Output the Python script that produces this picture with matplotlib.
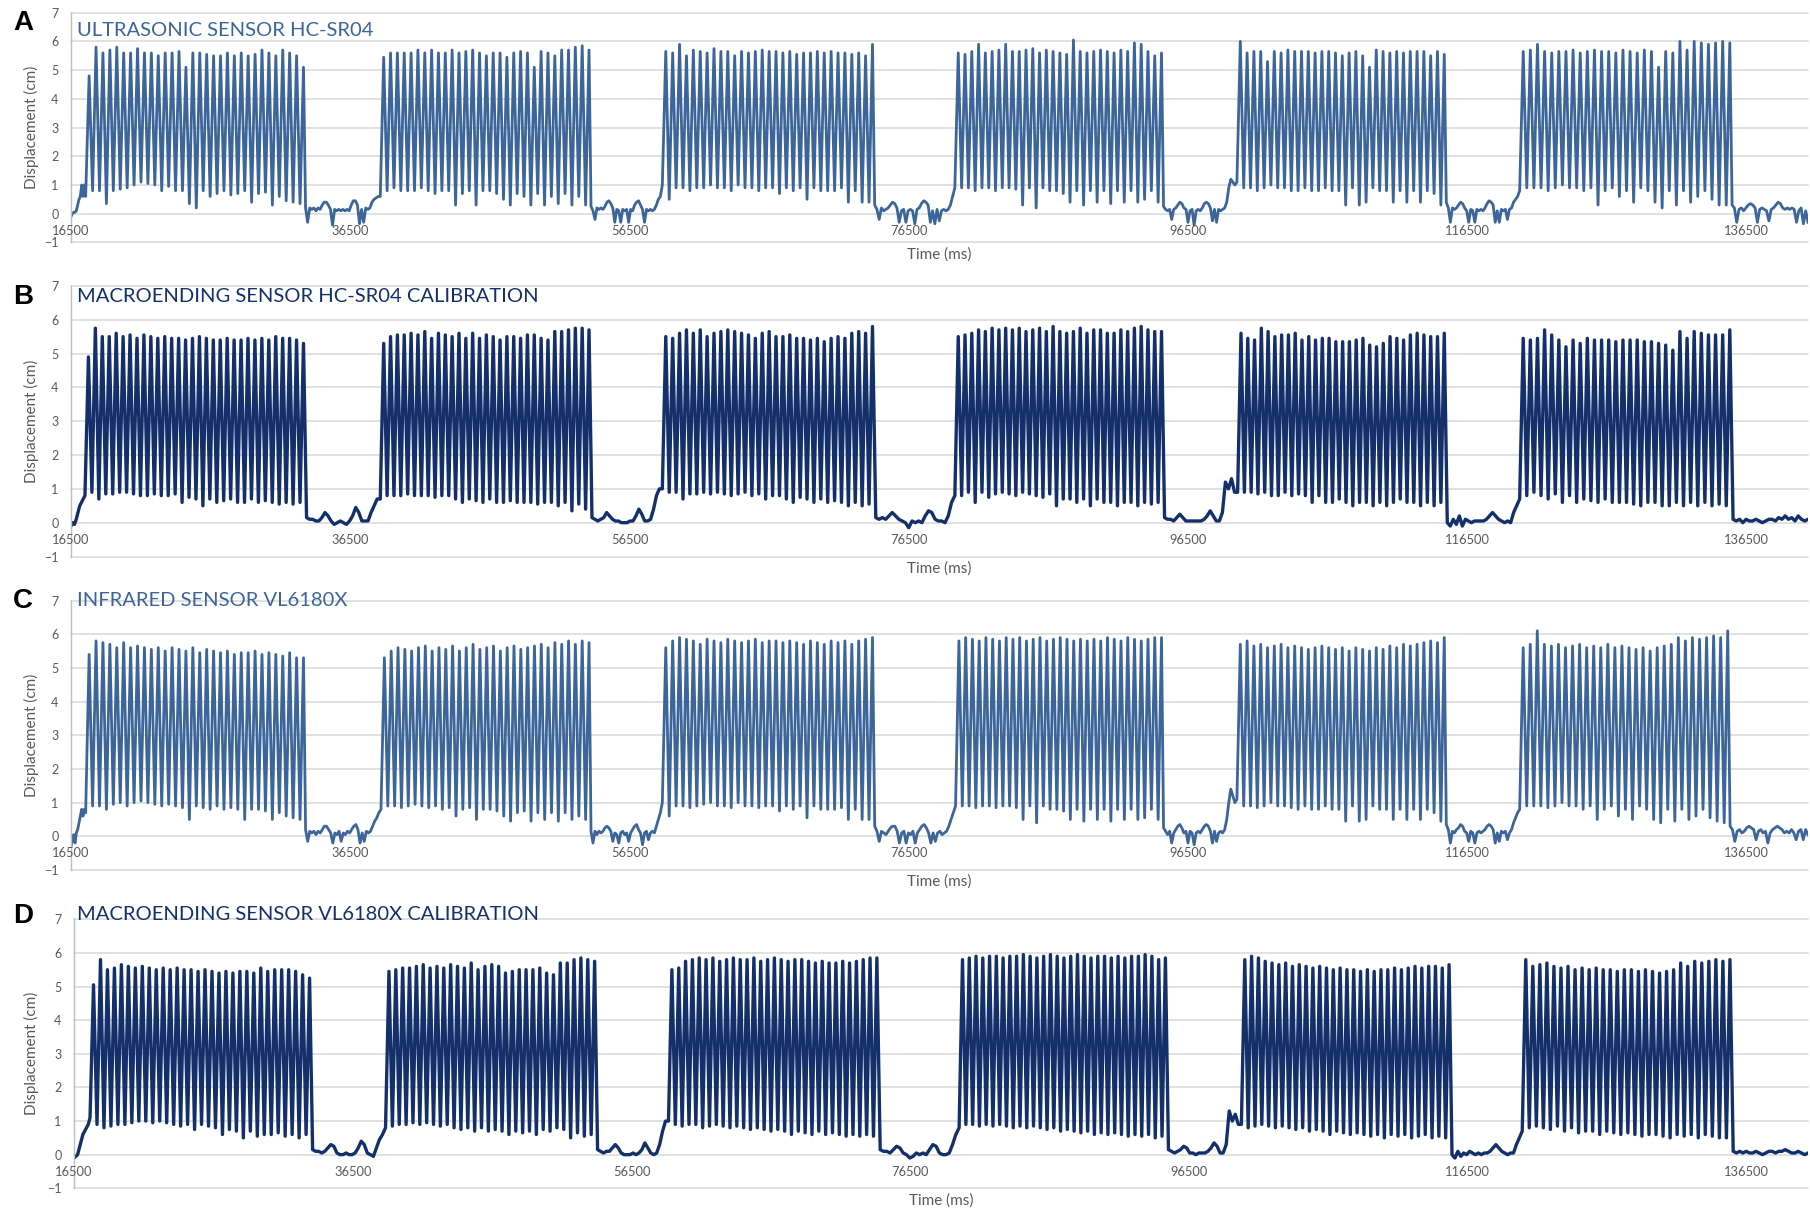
import numpy as np
import matplotlib.pyplot as plt

W, H = 1810, 1211
t_start, t_end = 16500, 140900
time_ticks = [16500, 36500, 56500, 76500, 96500, 116500, 136500]
disp_ticks = [-1, 0, 1, 2, 3, 4, 5, 6, 7]

# ---------------- A: ultrasonic sensor HC-SR04 ----------------
on_A = [17550, 38650, 58850, 79800, 100000, 120250]
off_A = [33150, 53600, 73900, 94600, 114850, 135300]
peaks_A = [
    [4.8, 5.8, 5.6, 5.7, 5.8, 5.6, 5.6, 5.75, 5.6, 5.6, 5.5, 5.6, 5.6, 5.65, 5.1, 5.6,
     5.6, 5.55, 5.5, 5.5, 5.6, 5.5, 5.6, 5.5, 5.55, 5.7, 5.6, 5.5, 5.7, 5.6, 5.5, 5.1],
    [5.45, 5.6, 5.6, 5.6, 5.6, 5.7, 5.6, 5.7, 5.6, 5.6, 5.7, 5.6, 5.65, 5.7, 5.6, 5.5,
     5.6, 5.6, 5.45, 5.6, 5.65, 5.6, 5.1, 5.65, 5.6, 5.5, 5.7, 5.7, 5.8, 5.85, 5.7],
    [5.65, 5.6, 5.9, 5.5, 5.7, 5.65, 5.6, 5.75, 5.65, 5.65, 5.5, 5.65, 5.6, 5.65, 5.7, 5.65,
     5.65, 5.6, 5.65, 5.55, 5.6, 5.6, 5.65, 5.6, 5.65, 5.6, 5.6, 5.55, 5.6, 5.5, 5.9],
    [5.6, 5.55, 5.65, 5.9, 5.6, 5.65, 5.7, 5.9, 5.65, 5.65, 5.7, 5.75, 5.6, 5.7, 5.65, 5.6,
     5.55, 6.05, 5.65, 5.6, 5.65, 5.7, 5.65, 5.6, 5.7, 5.65, 5.95, 5.9, 5.65, 5.5, 5.6],
    [6.0, 5.6, 5.65, 5.65, 5.3, 5.65, 5.6, 5.7, 5.65, 5.65, 5.65, 5.6, 5.65, 5.65, 5.6, 5.5,
     5.6, 5.65, 5.5, 5.1, 5.7, 5.65, 5.6, 5.65, 5.6, 5.65, 5.65, 5.65, 5.5, 5.65, 5.55],
    [5.65, 5.7, 5.9, 5.65, 5.6, 5.65, 5.65, 5.7, 5.6, 5.65, 5.7, 5.65, 5.65, 5.6, 5.7,
     5.65, 5.6, 5.7, 5.65, 5.1, 5.65, 5.6, 6.0, 5.7, 6.0, 5.95, 5.9, 5.95, 6.0, 5.95],
]
troughs_A = [
    [0.6, 0.8, 0.8, 0.35, 0.8, 0.85, 0.9, 1.0, 1.1, 1.05, 1.0, 0.8, 0.95, 0.8, 0.8, 0.35,
     0.2, 0.8, 0.6, 0.7, 0.8, 0.65, 0.7, 0.8, 0.4, 0.7, 0.75, 0.3, 0.6, 0.45, 0.4, 0.35],
    [0.6, 0.8, 0.9, 0.8, 0.8, 0.8, 0.9, 0.8, 0.7, 0.8, 0.8, 0.3, 0.7, 0.8, 0.3, 0.8,
     0.8, 0.7, 0.5, 0.3, 0.7, 0.6, 0.3, 0.7, 0.3, 0.6, 0.35, 0.7, 0.3, 0.6, 0.3],
    [1.0, 0.5, 0.9, 0.9, 0.8, 0.9, 0.9, 1.0, 0.9, 0.9, 0.8, 1.0, 0.9, 0.9, 0.8, 0.9,
     0.9, 0.7, 0.9, 0.8, 0.9, 0.5, 0.9, 0.8, 0.8, 0.8, 0.9, 0.4, 0.8, 0.4, 0.4],
    [0.9, 0.9, 0.9, 0.8, 0.9, 0.9, 0.8, 0.9, 0.9, 0.85, 0.3, 0.9, 0.2, 0.9, 0.8, 0.8,
     0.7, 0.4, 0.8, 0.3, 0.8, 0.4, 0.8, 0.35, 0.8, 0.4, 0.8, 0.4, 0.5, 0.8, 0.4],
    [1.1, 0.9, 0.9, 0.8, 0.9, 1.0, 0.9, 0.9, 0.8, 0.8, 0.9, 0.8, 0.8, 0.9, 0.8, 0.8,
     0.3, 0.9, 0.3, 0.4, 0.9, 0.8, 0.8, 0.4, 0.8, 0.4, 0.8, 0.4, 0.8, 0.7, 0.3],
    [0.8, 0.9, 0.9, 0.9, 0.8, 0.9, 1.0, 0.9, 0.9, 0.8, 0.9, 0.3, 0.8, 0.9, 0.6,
     0.8, 0.4, 0.9, 0.8, 0.4, 0.2, 0.8, 0.3, 0.8, 0.4, 0.6, 0.8, 0.5, 0.3, 0.3],
]
rest_A = [
    [-0.1, 0.0, 0.05, 0.05, 0.1, 0.3, 0.5, 0.6, 1.0, 0.6, 1.0],
    [0.2, -0.3, 0.2, 0.15, 0.2, 0.1, 0.2, 0.15, 0.3, 0.4, 0.4, 0.3, 0.15, -0.4, 0.15, 0.1,
     0.15, 0.1, 0.15, 0.1, 0.15, 0.1, 0.3, 0.45, 0.45, 0.3, -0.35, 0.15, -0.3, 0.2, 0.15,
     0.2, 0.4, 0.5, 0.55, 0.6],
    [0.25, 0.1, -0.2, 0.2, 0.15, 0.2, 0.15, 0.25, 0.4, 0.45, 0.35, 0.2, -0.3, 0.15, 0.1,
     -0.3, 0.15, 0.1, 0.15, -0.3, 0.15, 0.1, 0.3, 0.4, 0.45, 0.3, 0.15, -0.3, 0.15, 0.1,
     0.15, 0.1, 0.15, 0.3, 0.5, 0.6],
    [0.3, 0.15, -0.2, 0.2, 0.1, 0.15, 0.2, 0.3, 0.4, 0.35, 0.2, -0.3, 0.1, 0.15, -0.3,
     0.1, 0.15, 0.1, -0.35, 0.15, 0.2, 0.35, 0.45, 0.4, 0.3, -0.3, 0.1, -0.35, 0.15,
     -0.25, 0.1, 0.15, 0.1, 0.15, 0.3, 0.6],
    [0.25, 0.15, 0.1, 0.15, -0.2, 0.15, 0.2, 0.3, 0.4, 0.35, 0.2, 0.15, -0.3, 0.1, 0.15,
     -0.4, 0.1, 0.15, 0.1, 0.2, 0.35, 0.4, 0.35, 0.2, -0.25, 0.15, -0.3, 0.15, 0.1, 0.15,
     0.2, 0.4, 0.9, 1.2, 1.1, 1.0],
    [0.4, 0.2, -0.3, 0.2, 0.15, 0.2, 0.3, 0.4, 0.35, 0.2, 0.1, -0.3, 0.15, 0.1, -0.3,
     0.15, 0.1, 0.15, 0.1, 0.2, 0.35, 0.45, 0.4, 0.3, -0.3, 0.1, -0.3, 0.15, 0.1, 0.15,
     -0.2, 0.15, 0.2, 0.4, 0.5, 0.6],
    [0.3, 0.2, -0.3, 0.15, 0.2, 0.1, 0.2, 0.3, 0.35, 0.3, 0.2, -0.3, 0.15, 0.2, 0.15,
     0.1, -0.25, 0.15, 0.2, 0.3, 0.4, 0.35, 0.2, 0.15, 0.2, 0.15, 0.2, 0.15, -0.3, 0.1,
     0.2, -0.35, 0.1, -0.3],
]

# ---------------- B: macroending calibration with HC-SR04 ----------------
on_B = [17500, 38650, 58850, 79800, 100050, 120250]
off_B = [33150, 53600, 73900, 94600, 114850, 135300]
peaks_B = [
    [4.9, 5.75, 5.5, 5.5, 5.6, 5.5, 5.55, 5.45, 5.55, 5.5, 5.45, 5.5, 5.45, 5.45, 5.4, 5.45,
     5.5, 5.45, 5.4, 5.4, 5.45, 5.4, 5.4, 5.45, 5.4, 5.45, 5.4, 5.5, 5.45, 5.45, 5.4, 5.3],
    [5.3, 5.5, 5.55, 5.55, 5.6, 5.55, 5.65, 5.45, 5.6, 5.55, 5.5, 5.6, 5.45, 5.6, 5.45, 5.55,
     5.5, 5.4, 5.5, 5.5, 5.45, 5.55, 5.55, 5.45, 5.4, 5.65, 5.65, 5.7, 5.75, 5.75, 5.7],
    [5.5, 5.45, 5.6, 5.7, 5.6, 5.7, 5.5, 5.6, 5.65, 5.7, 5.65, 5.6, 5.55, 5.45, 5.6, 5.65,
     5.5, 5.5, 5.55, 5.45, 5.45, 5.4, 5.45, 5.35, 5.45, 5.5, 5.45, 5.6, 5.65, 5.6, 5.8],
    [5.5, 5.55, 5.6, 5.7, 5.65, 5.75, 5.7, 5.75, 5.7, 5.75, 5.65, 5.7, 5.75, 5.65, 5.8, 5.65,
     5.6, 5.65, 5.75, 5.6, 5.7, 5.7, 5.6, 5.6, 5.7, 5.65, 5.75, 5.8, 5.7, 5.65, 5.65],
    [5.6, 5.45, 5.4, 5.75, 5.65, 5.5, 5.55, 5.55, 5.6, 5.4, 5.5, 5.4, 5.45, 5.45, 5.35, 5.35,
     5.35, 5.4, 5.45, 5.25, 5.2, 5.3, 5.5, 5.45, 5.4, 5.55, 5.6, 5.55, 5.5, 5.5, 5.6],
    [5.45, 5.4, 5.45, 5.7, 5.55, 5.4, 5.2, 5.4, 5.3, 5.45, 5.4, 5.4, 5.4, 5.35, 5.4,
     5.4, 5.4, 5.35, 5.35, 5.3, 5.25, 5.1, 5.65, 5.45, 5.65, 5.6, 5.55, 5.55, 5.55, 5.7],
]
troughs_B = [
    [0.8, 0.9, 0.7, 0.85, 0.85, 0.9, 0.9, 0.85, 0.8, 0.8, 0.85, 0.8, 0.8, 0.85, 0.6, 0.75,
     0.7, 0.5, 0.7, 0.6, 0.65, 0.7, 0.6, 0.6, 0.7, 0.6, 0.65, 0.6, 0.55, 0.6, 0.55, 0.6],
    [0.7, 0.8, 0.8, 0.8, 0.85, 0.8, 0.8, 0.8, 0.75, 0.8, 0.8, 0.7, 0.6, 0.7, 0.65, 0.6,
     0.7, 0.6, 0.6, 0.65, 0.6, 0.6, 0.6, 0.55, 0.6, 0.6, 0.5, 0.6, 0.35, 0.55, 0.4],
    [1.0, 0.9, 0.9, 0.7, 0.85, 0.85, 0.9, 0.85, 0.9, 0.85, 0.8, 0.85, 0.9, 0.8, 0.85, 0.7,
     0.8, 0.8, 0.7, 0.6, 0.75, 0.7, 0.6, 0.7, 0.6, 0.65, 0.6, 0.5, 0.6, 0.5, 0.55],
    [0.8, 0.8, 0.9, 0.6, 0.9, 0.75, 0.85, 0.9, 0.85, 0.8, 0.9, 0.85, 0.8, 0.75, 0.85, 0.5,
     0.7, 0.7, 0.6, 0.7, 0.5, 0.7, 0.6, 0.6, 0.5, 0.6, 0.6, 0.5, 0.6, 0.55, 0.6],
    [0.9, 0.9, 0.9, 0.85, 0.9, 0.8, 0.8, 0.9, 0.8, 0.85, 0.8, 0.6, 0.8, 0.6, 0.6, 0.7,
     0.6, 0.5, 0.6, 0.6, 0.5, 0.6, 0.5, 0.6, 0.7, 0.6, 0.6, 0.5, 0.6, 0.5, 0.6],
    [0.7, 0.8, 0.9, 0.8, 0.7, 0.85, 0.6, 0.8, 0.6, 0.7, 0.65, 0.6, 0.7, 0.6, 0.6,
     0.6, 0.55, 0.5, 0.6, 0.6, 0.5, 0.5, 0.6, 0.5, 0.6, 0.5, 0.6, 0.5, 0.55, 0.5],
]
rest_B = [
    [-0.1, 0.0, -0.05, 0.1, 0.3, 0.5, 0.6, 0.7],
    [0.15, 0.1, 0.1, 0.05, 0.05, 0.15, 0.3, 0.2, 0.05, -0.05, 0.0, 0.05,
     0.0, -0.05, 0.05, 0.2, 0.45, 0.3, 0.05, 0.05, 0.05, 0.3, 0.5, 0.7],
    [0.15, 0.1, 0.05, 0.1, 0.15, 0.3, 0.2, 0.1, 0.05, 0.05, 0.0, 0.0,
     0.0, 0.05, 0.05, 0.2, 0.4, 0.25, 0.05, 0.05, 0.1, 0.4, 0.8, 1.0],
    [0.15, 0.1, 0.15, 0.1, 0.2, 0.3, 0.2, 0.1, 0.05, 0.0, -0.15, 0.05,
     0.0, 0.05, 0.0, 0.2, 0.35, 0.3, 0.1, 0.05, 0.05, 0.0, 0.2, 0.6],
    [0.15, 0.1, 0.1, 0.05, 0.15, 0.25, 0.15, 0.05, 0.05, 0.05, 0.05, 0.05,
     0.05, 0.1, 0.2, 0.35, 0.2, 0.05, 0.05, 0.3, 1.2, 1.0, 1.3, 0.9],
    [0.0, -0.1, 0.1, -0.05, 0.2, -0.1, 0.1, 0.05, 0.0, 0.05, 0.05, 0.05,
     0.05, 0.1, 0.2, 0.3, 0.2, 0.1, 0.05, 0.0, 0.05, 0.0, 0.3, 0.5],
    [0.1, 0.05, 0.1, 0.0, 0.1, 0.05, 0.05, 0.1, 0.05, 0.0, 0.05, 0.1,
     0.1, 0.05, 0.15, 0.1, 0.2, 0.1, 0.15, 0.05, 0.2, 0.1, 0.05, 0.1],
]

# ---------------- C: infrared sensor VL6180X ----------------
on_C = [17550, 38700, 58850, 79850, 100000, 120250]
off_C = [33150, 53600, 73900, 94600, 114850, 135150]
peaks_C = [
    [5.4, 5.8, 5.75, 5.7, 5.6, 5.75, 5.6, 5.65, 5.6, 5.55, 5.6, 5.5, 5.6, 5.55, 5.5, 5.6,
     5.45, 5.55, 5.5, 5.45, 5.5, 5.4, 5.45, 5.45, 5.5, 5.4, 5.45, 5.4, 5.35, 5.45, 5.3, 5.3],
    [5.3, 5.5, 5.6, 5.55, 5.5, 5.6, 5.65, 5.5, 5.6, 5.55, 5.65, 5.5, 5.6, 5.7, 5.55, 5.6,
     5.65, 5.5, 5.6, 5.65, 5.55, 5.6, 5.65, 5.7, 5.6, 5.75, 5.7, 5.8, 5.7, 5.8, 5.75],
    [5.6, 5.8, 5.9, 5.85, 5.8, 5.7, 5.85, 5.8, 5.75, 5.85, 5.8, 5.75, 5.8, 5.85, 5.75, 5.8,
     5.8, 5.75, 5.8, 5.75, 5.7, 5.8, 5.75, 5.7, 5.8, 5.75, 5.8, 5.7, 5.8, 5.85, 5.9],
    [5.8, 5.9, 5.85, 5.8, 5.9, 5.85, 5.8, 5.9, 5.85, 5.9, 5.8, 5.85, 5.9, 5.8, 5.85, 5.9,
     5.85, 5.8, 5.85, 5.8, 5.85, 5.8, 5.9, 5.85, 5.8, 5.9, 5.85, 5.8, 5.85, 5.9, 5.9],
    [5.7, 5.8, 5.65, 5.7, 5.6, 5.65, 5.7, 5.6, 5.65, 5.6, 5.55, 5.6, 5.65, 5.6, 5.55, 5.6,
     5.5, 5.6, 5.55, 5.5, 5.6, 5.55, 5.65, 5.6, 5.7, 5.65, 5.7, 5.75, 5.8, 5.75, 5.9],
    [5.6, 5.7, 6.1, 5.7, 5.65, 5.7, 5.6, 5.65, 5.7, 5.6, 5.65, 5.6, 5.7, 5.6, 5.65,
     5.6, 5.55, 5.6, 5.5, 5.6, 5.65, 5.7, 5.9, 5.8, 5.9, 5.85, 5.9, 5.95, 5.9, 6.1],
]
troughs_C = [
    [0.7, 0.9, 0.9, 0.8, 0.95, 1.0, 0.9, 1.0, 1.05, 1.0, 0.95, 0.9, 0.95, 0.9, 0.85, 0.5,
     0.9, 0.85, 0.8, 0.9, 0.8, 0.85, 0.8, 0.5, 0.8, 0.8, 0.75, 0.5, 0.7, 0.6, 0.55, 0.5],
    [0.8, 0.9, 0.9, 0.85, 0.9, 0.95, 0.9, 0.85, 0.9, 0.8, 0.85, 0.6, 0.8, 0.85, 0.5, 0.8,
     0.8, 0.75, 0.6, 0.45, 0.7, 0.75, 0.45, 0.7, 0.5, 0.7, 0.45, 0.7, 0.5, 0.6, 0.5],
    [1.0, 0.6, 0.9, 0.9, 0.85, 0.9, 0.95, 1.0, 0.9, 0.9, 0.85, 1.0, 0.9, 0.9, 0.85, 0.9,
     0.9, 0.75, 0.9, 0.8, 0.9, 0.55, 0.9, 0.8, 0.8, 0.8, 0.85, 0.5, 0.8, 0.5, 0.5],
    [0.9, 0.9, 0.9, 0.85, 0.9, 0.9, 0.85, 0.9, 0.9, 0.85, 0.5, 0.9, 0.4, 0.9, 0.8, 0.8,
     0.75, 0.5, 0.8, 0.45, 0.8, 0.5, 0.8, 0.45, 0.8, 0.5, 0.8, 0.5, 0.55, 0.8, 0.5],
    [1.1, 0.9, 0.9, 0.85, 0.9, 1.0, 0.9, 0.9, 0.85, 0.8, 0.9, 0.8, 0.8, 0.9, 0.8, 0.8,
     0.45, 0.9, 0.45, 0.5, 0.9, 0.8, 0.8, 0.5, 0.8, 0.5, 0.8, 0.5, 0.8, 0.7, 0.45],
    [0.8, 0.9, 0.9, 0.9, 0.85, 0.9, 1.0, 0.9, 0.9, 0.8, 0.9, 0.5, 0.8, 0.9, 0.6,
     0.8, 0.5, 0.9, 0.8, 0.5, 0.4, 0.8, 0.45, 0.8, 0.5, 0.6, 0.8, 0.55, 0.45, 0.4],
]
rest_C = [
    [-0.3, -0.1, 0.05, -0.2, 0.1, 0.2, 0.4, 0.6, 0.8, 0.6, 0.8],
    [0.2, -0.15, 0.15, 0.1, 0.15, 0.05, 0.15, 0.1, 0.2, 0.3, 0.3, 0.2, 0.1, -0.2, 0.1,
     0.05, 0.15, -0.15, 0.1, 0.05, 0.15, 0.1, 0.2, 0.3, 0.35, 0.2, -0.2, 0.1, -0.15, 0.15,
     0.1, 0.15, 0.3, 0.45, 0.55, 0.7],
    [0.15, -0.2, 0.15, 0.05, 0.15, 0.1, 0.15, 0.25, 0.3, 0.25, 0.15, -0.15, 0.1, 0.05,
     -0.2, 0.1, 0.15, 0.05, 0.1, -0.15, 0.1, 0.2, 0.3, 0.35, 0.2, 0.1, -0.25, 0.1, 0.15,
     -0.1, 0.1, 0.15, 0.1, 0.3, 0.5, 0.7],
    [0.3, 0.15, -0.15, 0.15, 0.1, 0.05, 0.15, 0.25, 0.3, 0.3, 0.15, -0.2, 0.1, 0.15,
     -0.2, 0.1, 0.05, 0.15, -0.2, 0.1, 0.2, 0.3, 0.35, 0.25, 0.1, -0.2, 0.1, -0.15, 0.1,
     0.15, 0.05, 0.1, 0.15, 0.3, 0.5, 0.7],
    [0.25, 0.15, 0.05, 0.15, -0.2, 0.1, 0.2, 0.3, 0.35, 0.25, 0.1, 0.15, -0.2, 0.15,
     0.1, -0.25, 0.1, 0.15, 0.1, 0.2, 0.3, 0.35, 0.3, 0.15, -0.2, 0.15, -0.15, 0.1, 0.15,
     0.1, 0.2, 0.5, 1.0, 1.4, 1.2, 1.0],
    [0.35, 0.2, -0.2, 0.15, 0.1, 0.2, 0.25, 0.35, 0.3, 0.15, 0.1, -0.15, 0.15, 0.1,
     -0.2, 0.1, 0.15, 0.1, 0.15, 0.2, 0.3, 0.35, 0.3, 0.2, -0.2, 0.1, -0.15, 0.15, 0.1,
     0.15, -0.1, 0.1, 0.2, 0.4, 0.55, 0.7],
    [0.3, 0.2, -0.15, 0.15, 0.2, 0.1, 0.15, 0.25, 0.3, 0.25, 0.2, -0.1, 0.15, 0.2, 0.1,
     0.15, -0.2, 0.1, 0.2, 0.25, 0.3, 0.25, 0.2, 0.1, 0.15, 0.1, 0.2, 0.1, -0.1, 0.15,
     0.2, -0.1, 0.2, 0.05],
]

# ---------------- D: macroending calibration with VL6180X ----------------
on_D = [17650, 38850, 59150, 80000, 100250, 120400]
off_D = [33400, 53850, 74100, 94800, 115150, 135300]
peaks_D = [
    [5.05, 5.8, 5.5, 5.55, 5.65, 5.6, 5.55, 5.6, 5.55, 5.5, 5.55, 5.5, 5.55, 5.5, 5.5, 5.45,
     5.5, 5.45, 5.4, 5.45, 5.4, 5.45, 5.45, 5.4, 5.55, 5.45, 5.5, 5.5, 5.5, 5.45, 5.35, 5.25],
    [5.45, 5.5, 5.55, 5.55, 5.6, 5.65, 5.55, 5.6, 5.55, 5.65, 5.6, 5.55, 5.7, 5.5, 5.6, 5.65,
     5.6, 5.4, 5.45, 5.5, 5.5, 5.5, 5.55, 5.4, 5.35, 5.7, 5.7, 5.8, 5.85, 5.8, 5.75],
    [5.5, 5.55, 5.75, 5.8, 5.85, 5.8, 5.85, 5.75, 5.8, 5.85, 5.8, 5.8, 5.85, 5.75, 5.8, 5.85,
     5.8, 5.75, 5.8, 5.8, 5.75, 5.7, 5.75, 5.7, 5.7, 5.75, 5.7, 5.75, 5.8, 5.85, 5.85],
    [5.8, 5.85, 5.9, 5.85, 5.9, 5.9, 5.85, 5.9, 5.9, 5.95, 5.9, 5.85, 5.9, 5.95, 5.9, 5.85,
     5.9, 5.95, 5.9, 5.85, 5.9, 5.9, 5.85, 5.9, 5.85, 5.9, 5.9, 5.95, 5.9, 5.8, 5.85],
    [5.8, 5.9, 5.85, 5.75, 5.7, 5.65, 5.7, 5.6, 5.65, 5.6, 5.55, 5.6, 5.55, 5.5, 5.55, 5.5,
     5.5, 5.45, 5.5, 5.45, 5.5, 5.5, 5.55, 5.5, 5.55, 5.6, 5.55, 5.6, 5.6, 5.55, 5.65],
    [5.8, 5.6, 5.65, 5.7, 5.6, 5.55, 5.6, 5.5, 5.55, 5.5, 5.55, 5.5, 5.5, 5.45, 5.5,
     5.5, 5.45, 5.5, 5.45, 5.4, 5.45, 5.5, 5.7, 5.6, 5.75, 5.7, 5.75, 5.8, 5.75, 5.8],
]
troughs_D = [
    [1.1, 0.9, 0.8, 0.85, 0.9, 0.9, 0.95, 1.0, 1.0, 0.95, 1.0, 0.95, 0.9, 0.85, 0.9, 0.75,
     0.9, 0.85, 0.8, 0.6, 0.75, 0.7, 0.5, 0.7, 0.55, 0.6, 0.6, 0.65, 0.55, 0.6, 0.5, 0.6],
    [0.8, 0.85, 0.9, 0.9, 0.95, 0.9, 0.95, 0.9, 0.85, 0.9, 0.8, 0.75, 0.8, 0.7, 0.8, 0.7,
     0.75, 0.7, 0.6, 0.7, 0.65, 0.7, 0.6, 0.75, 0.7, 0.8, 0.75, 0.5, 0.65, 0.55, 0.6],
    [1.0, 0.9, 0.85, 0.9, 0.9, 0.8, 0.85, 0.9, 0.85, 0.8, 0.85, 0.8, 0.75, 0.8, 0.75, 0.7,
     0.75, 0.7, 0.6, 0.7, 0.65, 0.6, 0.7, 0.6, 0.65, 0.6, 0.55, 0.6, 0.55, 0.6, 0.55],
    [0.8, 0.9, 0.9, 0.85, 0.9, 0.85, 0.9, 0.85, 0.8, 0.85, 0.8, 0.85, 0.8, 0.75, 0.8, 0.7,
     0.75, 0.7, 0.65, 0.7, 0.6, 0.65, 0.6, 0.65, 0.6, 0.55, 0.6, 0.55, 0.6, 0.5, 0.55],
    [0.9, 0.8, 0.85, 0.9, 0.85, 0.8, 0.85, 0.8, 0.75, 0.8, 0.7, 0.75, 0.7, 0.6, 0.7, 0.65,
     0.6, 0.65, 0.6, 0.55, 0.6, 0.5, 0.6, 0.55, 0.6, 0.5, 0.55, 0.6, 0.5, 0.55, 0.5],
    [0.7, 0.8, 0.85, 0.8, 0.75, 0.85, 0.7, 0.8, 0.65, 0.7, 0.7, 0.6, 0.7, 0.65, 0.6,
     0.65, 0.6, 0.55, 0.6, 0.6, 0.55, 0.5, 0.6, 0.55, 0.6, 0.5, 0.6, 0.55, 0.5, 0.5],
]
rest_D = [
    [-0.1, -0.05, 0.0, 0.2, 0.4, 0.6, 0.7, 0.8, 0.9],
    [0.15, 0.1, 0.1, 0.05, 0.1, 0.2, 0.3, 0.25, 0.05, 0.0, 0.0, 0.05,
     0.0, 0.0, 0.05, 0.2, 0.4, 0.3, 0.05, 0.0, -0.05, 0.2, 0.45, 0.6],
    [0.15, 0.1, 0.05, 0.1, 0.1, 0.2, 0.3, 0.2, 0.05, 0.0, 0.0, 0.0,
     0.05, 0.0, 0.05, 0.15, 0.35, 0.2, 0.05, 0.0, 0.05, 0.3, 0.7, 1.0],
    [0.15, 0.1, 0.1, 0.05, 0.15, 0.25, 0.2, 0.05, 0.0, -0.1, -0.05, 0.05,
     0.0, 0.05, 0.0, 0.15, 0.3, 0.25, 0.05, 0.0, 0.0, 0.05, 0.3, 0.6],
    [0.15, 0.1, 0.05, 0.1, 0.15, 0.25, 0.2, 0.05, 0.05, 0.0, 0.05, 0.05,
     0.05, 0.1, 0.2, 0.35, 0.25, 0.05, 0.05, 0.3, 1.3, 1.0, 1.2, 0.9],
    [0.0, -0.1, 0.1, -0.05, 0.05, 0.0, 0.1, 0.05, 0.0, 0.05, 0.0, 0.05,
     0.05, 0.1, 0.2, 0.3, 0.2, 0.1, 0.05, 0.0, 0.05, 0.05, 0.3, 0.5],
    [0.1, 0.05, 0.1, 0.05, 0.1, 0.05, 0.05, 0.1, 0.05, 0.0, 0.05, 0.1,
     0.1, 0.05, 0.1, 0.1, 0.15, 0.1, 0.05, 0.05, 0.1, 0.05, 0.0, 0.05],
]

titles = ["ULTRASONIC SENSOR HC-SR04",
          "MACROENDING SENSOR HC-SR04 CALIBRATION",
          "INFRARED SENSOR VL6180X",
          "MACROENDING SENSOR VL6180X CALIBRATION"]
letters = ["A", "B", "C", "D"]


def build_trace(on, off, peaks, troughs, rest):
    """Chain the lead-in, the bursts and the pauses into one trace."""
    ts, ys = [], []
    lead = rest[0]
    ts += list(np.linspace(t_start, on[0], len(lead) + 1)[:-1])
    ys += lead
    for i in range(len(on)):
        cyc = []
        for tr, pk in zip(troughs[i], peaks[i]):
            cyc += [tr, pk]
        ts += list(np.linspace(on[i], off[i], len(cyc)))
        ys += cyc
        pause = rest[i + 1]
        if i + 1 < len(on):
            ts += list(np.linspace(off[i], on[i + 1], len(pause) + 2)[1:-1])
        else:
            ts += list(np.linspace(off[i], t_end, len(pause) + 1)[1:])
        ys += pause
    return np.array(ts), np.array(ys)


panels = [
    (on_A, off_A, peaks_A, troughs_A, rest_A),
    (on_B, off_B, peaks_B, troughs_B, rest_B),
    (on_C, off_C, peaks_C, troughs_C, rest_C),
    (on_D, off_D, peaks_D, troughs_D, rest_D),
]
# plot boxes in pixels: left, top (y=7), right, bottom (y=-1)
boxes = [(71, 12.7, 1808, 242.4),
         (71, 285.9, 1808, 556.5),
         (71, 600.5, 1808, 870.0),
         (74, 919.3, 1808, 1188.3)]
line_colors = ["#3C6599", "#13306A", "#3C6599", "#13306A"]
line_widths = [2.0, 2.4, 2.0, 2.4]
title_y = [31, 297, 601, 915]
letter_y = [23, 297, 601, 916]
grey = "#595959"

fig = plt.figure(figsize=(W / 100, H / 100), dpi=100)

for k, (on, off, pk, tr, rs) in enumerate(panels):
    left, top, right, bottom = boxes[k]
    ax = fig.add_axes([left / W, 1 - bottom / H, (right - left) / W, (bottom - top) / H])
    ax.set_xlim(t_start, t_end)
    ax.set_ylim(-1, 7)
    for v in disp_ticks:
        ax.axhline(v, color="#D9D9D9", lw=1.1, zorder=0, clip_on=False)
    t, y = build_trace(on, off, pk, tr, rs)
    ax.plot(t, y, color=line_colors[k], lw=line_widths[k], solid_joinstyle="round")
    for s in ["top", "right", "bottom"]:
        ax.spines[s].set_visible(False)
    ax.spines["left"].set_color("#BFBFBF")
    ax.spines["left"].set_linewidth(1.0)
    ax.set_xticks([])
    ax.set_yticks(disp_ticks)
    ax.tick_params(axis="y", length=0, pad=9, labelsize=9, labelcolor=grey)
    for lab in ax.get_yticklabels():
        lab.set_family("Lato")
    for tt in time_ticks:
        ax.annotate(str(tt), xy=(tt, 0), xytext=(0, -17), textcoords="offset pixels",
                    ha="center", va="center", fontsize=9.3, color=grey, family="Lato")
    fig.text((left + right) / 2 / W, 1 - (bottom + 12) / H, "Time (ms)", ha="center",
             va="center", fontsize=11, color=grey, family="Lato")
    fig.text(31 / W, 1 - (top + bottom) / 2 / H, "Displacement (cm)", rotation=90,
             ha="center", va="center", fontsize=11, color=grey, family="Lato")
    fig.text(77 / W, 1 - title_y[k] / H, titles[k], ha="left", va="center",
             fontsize=14.5, color=line_colors[k], family="Lato")
    fig.text(23 / W, 1 - letter_y[k] / H, letters[k], ha="center", va="center",
             fontsize=20, fontweight="bold", color="black", family="Liberation Sans")

fig.savefig("out.png", dpi=100)
